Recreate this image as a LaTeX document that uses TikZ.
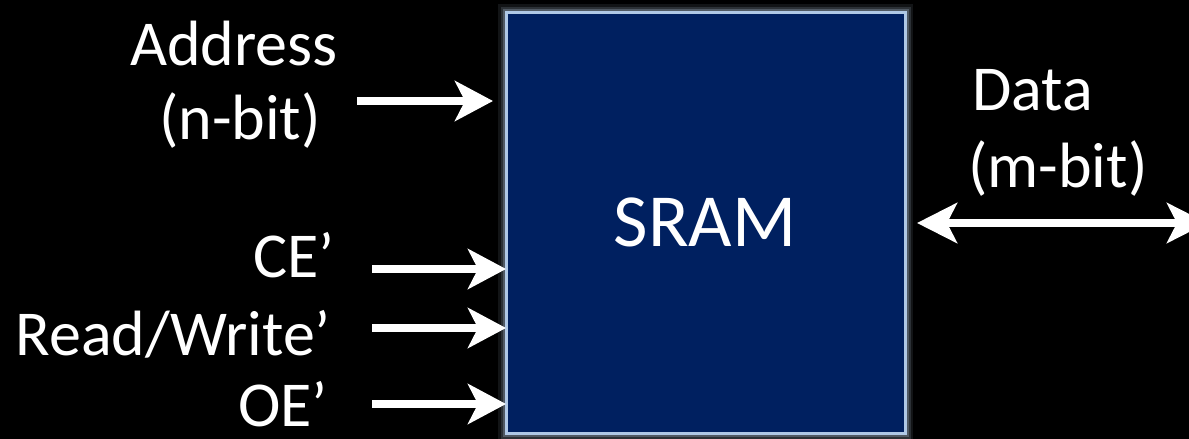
\documentclass[tikz,border=0pt]{standalone}
\usepackage{fontspec}
\setmainfont{Carlito}
\usetikzlibrary{arrows.meta,fit}
\definecolor{boxblue}{RGB}{0,32,96}
\definecolor{rimblue}{RGB}{175,200,230}
\definecolor{glowgray}{RGB}{150,165,185}
\tikzset{
  lbl/.style={text=white, inner sep=0pt, font=\fontsize{64}{70}\selectfont},
  big/.style={text=white, inner sep=0pt, font=\fontsize{75}{80}\selectfont},
  box/.style={draw=rimblue, fill=boxblue, line width=3pt, inner sep=0pt, outer sep=0pt},
  sig/.style={draw=white, line width=7.5pt, -{Stealth[length=38pt,width=40pt,inset=10pt]}},
  sigboth/.style={draw=white, line width=7.5pt, {Stealth[length=40pt,width=40pt,inset=10pt]}-{Stealth[length=40pt,width=40pt,inset=10pt]}}
}
\begin{document}
\begin{tikzpicture}[x=1pt,y=-1pt]
  % canvas
  \fill[black] (0,0) rectangle (1189,439);
  \clip (0,0) rectangle (1189,439);

  % memory block with a soft rim
  \coordinate (nw) at (506,12);
  \coordinate (se) at (905,433);
  \foreach \w/\o in {16/0.12, 11/0.2, 7/0.35}
    \draw[glowgray, line width=\w pt, opacity=\o] (nw) rectangle (se);
  \node[box, fit=(nw)(se)] (sram) {};
  \node[big, anchor=base] (title) at (705,246) {SRAM};

  % input labels
  \node[lbl, anchor=base east] (addr)  at (338,65)  {Address};
  \node[lbl, anchor=base east] (nbit)  at (321,139) {(n-bit)};
  \node[lbl, anchor=base east] (ce)    at (335,277) {CE’};
  \node[lbl, anchor=base east] (rw)    at (331,355) {Read/Write’};
  \node[lbl, anchor=base east] (oe)    at (328,426) {OE’};

  % data labels
  \node[lbl, anchor=base west] (data)  at (972,110) {Data};
  \node[lbl, anchor=base west] (mbit)  at (968,187) {(m-bit)};

  % arrow tails
  \coordinate (aT) at (357,101);
  \coordinate (ceT) at (372,269);
  \coordinate (rwT) at (372,328);
  \coordinate (oeT) at (372,404);
  \coordinate (dE) at (1207,223);

  % input signals
  \draw[sig] (aT) -- ([xshift=-13pt]sram.west |- aT);
  \draw[sig] (ceT) -- (sram.west |- ceT);
  \draw[sig] (rwT) -- (sram.west |- rwT);
  \draw[sig] (oeT) -- (sram.west |- oeT);

  % bidirectional data bus
  \draw[sigboth] ([xshift=12pt]sram.east |- dE) -- (dE);
\end{tikzpicture}
\end{document}
